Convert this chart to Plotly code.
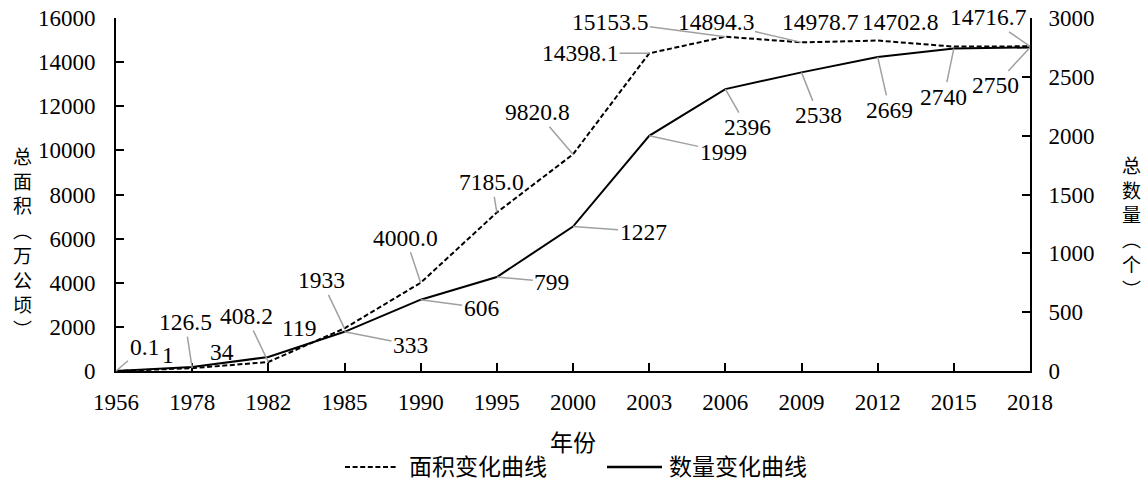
import plotly.graph_objects as go

years = ["1956", "1978", "1982", "1985", "1990", "1995", "2000", "2003", "2006", "2009", "2012", "2015", "2018"]
area = [0.1, 126.5, 408.2, 1933, 4000.0, 7185.0, 9820.8, 14398.1, 15153.5, 14894.3, 14978.7, 14702.8, 14716.7]
area_labels = ["0.1", "126.5", "408.2", "1933", "4000.0", "7185.0", "9820.8", "14398.1", "15153.5", "14894.3", "14978.7", "14702.8", "14716.7"]
count = [1, 34, 119, 333, 606, 799, 1227, 1999, 2396, 2538, 2669, 2740, 2750]
series_names = ["面积变化曲线", "数量变化曲线"]

# label placement (pixel offsets from point, show leader line)
area_pos = [(28, -24, True), (-7, -46, True), (-22, -46, True), (-23, -48, True), (-15, -45, True),
            (-5, -30, True), (-36, -42, True), (-69, 0, True), (-115, -15, True), (-86, -20, True),
            (-57, -19, False), (-54, -25, False), (-42, -29, True)]
count_pos = [(52, -16, False), (30, -15, False), (31, -29, False), (66, 13, True), (61, 8, True),
             (55, 5, True), (70, 5, True), (74, 16, True), (22, 38, True), (17, 43, True),
             (12, 53, True), (-10, 48, True), (-35, 38, True)]

SERIF = "Liberation Serif, 'Noto Serif CJK SC', 'Noto Sans CJK SC', serif"
CJK = "'Noto Sans CJK SC', 'Liberation Serif', serif"
DASH = "5px,2.6px"

L, R, T, B = 116, 117, 18, 110
W, H = 1147, 481
PW, PH = W - L - R, H - T - B


def px(xp):
    return (xp - L) / PW


def py(yp):
    return (H - B - yp) / PH


fig = go.Figure()
fig.add_trace(go.Scatter(x=years, y=area, mode="lines", name=series_names[0],
                         line=dict(color="black", width=2, dash=DASH), yaxis="y"))
fig.add_trace(go.Scatter(x=years, y=count, mode="lines", name=series_names[1],
                         line=dict(color="black", width=2), yaxis="y2"))

anns = []
for i, (yv, txt, (ax, ay, arrow)) in enumerate(zip(area, area_labels, area_pos)):
    anns.append(dict(x=i, y=yv, xref="x", yref="y", text=txt, showarrow=True,
                     ax=ax, ay=ay, arrowhead=0, arrowwidth=1.5,
                     arrowcolor="#a0a0a0" if arrow else "rgba(0,0,0,0)",
                     standoff=0, font=dict(family=SERIF, size=23.5, color="black")))
for i, (yv, (ax, ay, arrow)) in enumerate(zip(count, count_pos)):
    anns.append(dict(x=i, y=yv, xref="x", yref="y2", text=str(yv), showarrow=True,
                     ax=ax, ay=ay, arrowhead=0, arrowwidth=1.5,
                     arrowcolor="#a0a0a0" if arrow else "rgba(0,0,0,0)",
                     standoff=0, font=dict(family=SERIF, size=23.5, color="black")))

anns.append(dict(x=px(22), y=py(242), xref="paper", yref="paper",
                 text="<br>".join(list("总面积︵万公顷︶")),
                 showarrow=False, xanchor="center", yanchor="middle",
                 font=dict(family=CJK, size=19, color="black")))
anns.append(dict(x=px(1131), y=py(226), xref="paper", yref="paper",
                 text="<br>".join(list("总数量︵个︶")),
                 showarrow=False, xanchor="center", yanchor="middle",
                 font=dict(family=CJK, size=19, color="black")))
anns.append(dict(x=0.5, y=py(441), xref="paper", yref="paper", text="年份",
                 showarrow=False, xanchor="center", yanchor="middle",
                 font=dict(family=CJK, size=23, color="black")))

# custom legend
shapes = [
    dict(type="line", xref="paper", yref="paper", x0=px(345), x1=px(398), y0=py(467), y1=py(467),
         line=dict(color="black", width=2, dash=DASH)),
    dict(type="line", xref="paper", yref="paper", x0=px(607), x1=px(662), y0=py(467), y1=py(467),
         line=dict(color="black", width=2.5)),
]
anns.append(dict(x=px(408), y=py(465), xref="paper", yref="paper", text=series_names[0],
                 showarrow=False, xanchor="left", yanchor="middle", borderpad=0,
                 font=dict(family=CJK, size=23, color="black")))
anns.append(dict(x=px(668), y=py(465), xref="paper", yref="paper", text=series_names[1],
                 showarrow=False, xanchor="left", yanchor="middle", borderpad=0,
                 font=dict(family=CJK, size=23, color="black")))

fig.update_layout(annotations=anns, shapes=shapes)

fig.update_layout(
    width=W, height=H,
    margin=dict(l=L, r=R, t=T, b=B, autoexpand=False),
    paper_bgcolor="white", plot_bgcolor="white",
    font=dict(family=SERIF, size=23, color="black"),
    showlegend=False,
    xaxis=dict(type="category", range=[0, len(years) - 1], showline=True, linecolor="black", linewidth=2,
               ticks="inside", ticklen=8, tickwidth=1.5, tickcolor="black", showgrid=False, zeroline=False,
               tickfont=dict(family=SERIF, size=23), ticklabelstandoff=9, automargin=False),
    yaxis=dict(range=[0, 16000], dtick=2000, tickformat="d", showline=True, linecolor="black", linewidth=2,
               ticks="inside", ticklen=8, tickwidth=1.5, tickcolor="black", showgrid=False, zeroline=False,
               tickfont=dict(family=SERIF, size=23), ticklabelstandoff=14, automargin=False),
    yaxis2=dict(range=[0, 3000], dtick=500, tickformat="d", overlaying="y", side="right", showline=True,
                linecolor="black", linewidth=2, ticks="inside", ticklen=8, tickwidth=1.5, tickcolor="black",
                showgrid=False, zeroline=False, tickfont=dict(family=SERIF, size=23), ticklabelstandoff=12,
                automargin=False),
)

fig.write_html("out.html", config={"displayModeBar": False},
               post_script="document.body.style.margin='0px';")
